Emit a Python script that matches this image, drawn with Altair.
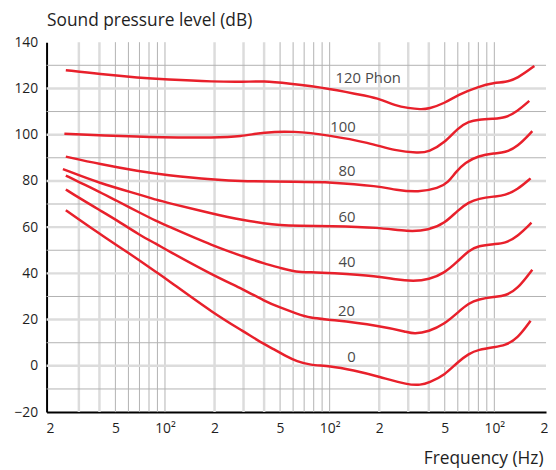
import altair as alt
import pandas as pd

# ---------------- data ----------------
phon_levels = [120, 100, 80, 60, 40, 20, 0]

freq_120 = [25, 40, 70, 100, 200, 300, 400, 550, 1000, 1740, 2000, 2500, 3000, 3570, 4000, 5000, 6000, 8000, 10000, 11600, 13800, 17500]
spl_120 = [127.9, 126.2, 124.6, 123.9, 122.9, 122.8, 123.2, 122.2, 120.0, 116.5, 115.5, 112.6, 111.5, 110.9, 111.2, 113.6, 117.2, 120.8, 122.5, 122.6, 124.3, 129.7]

freq_100 = [24.5, 40, 100, 200, 290, 400, 600, 1000, 1740, 2500, 3470, 4000, 5000, 6000, 7000, 8000, 10000, 11600, 13800, 16300]
spl_100 = [100.4, 99.7, 98.7, 98.7, 99.2, 101.1, 101.6, 99.7, 96.5, 93.0, 92.0, 92.5, 96.5, 102.9, 105.8, 106.5, 106.9, 107.2, 110.1, 114.6]

freq_80 = [25, 40, 70, 100, 200, 300, 630, 1000, 2000, 2500, 3470, 4580, 5260, 5800, 6650, 8000, 10000, 11600, 13800, 17000]
spl_80 = [90.5, 87.3, 84.1, 82.6, 80.4, 79.8, 79.6, 79.5, 77.7, 76.1, 75.1, 76.8, 79.4, 83.7, 88.0, 90.8, 92.0, 92.2, 94.7, 101.5]

freq_60 = [24, 40, 70, 91, 100, 200, 300, 400, 500, 630, 1000, 2000, 3000, 4000, 5000, 6000, 7000, 8000, 10000, 11600, 13800, 16600]
spl_60 = [85.1, 79.0, 74.1, 71.6, 70.8, 65.6, 63.0, 61.6, 60.9, 60.6, 60.5, 59.9, 58.0, 58.7, 61.6, 67.3, 70.8, 72.3, 73.3, 73.7, 76.2, 81.1]

freq_40 = [25, 30, 40, 50, 70, 90, 100, 200, 300, 400, 500, 630, 760, 1000, 2000, 2500, 3240, 4000, 5000, 6000, 7000, 8000, 10000, 11600, 13800, 16800]
spl_40 = [82.3, 79.5, 75.3, 71.7, 66.3, 62.4, 61.0, 51.6, 47.3, 44.2, 42.4, 40.5, 40.5, 40.2, 38.8, 37.3, 36.6, 37.3, 40.2, 45.2, 49.9, 51.9, 52.7, 53.0, 55.9, 61.9]

freq_20 = [25, 30, 40, 50, 70, 90, 100, 200, 300, 400, 500, 630, 760, 1000, 2000, 3000, 3240, 4000, 5000, 6000, 7000, 8000, 10000, 11600, 13800, 17000]
spl_20 = [76.3, 72.7, 67.4, 63.4, 56.6, 52.5, 50.5, 38.8, 33.1, 28.1, 25.2, 22.6, 20.7, 20.0, 17.4, 14.5, 13.8, 14.8, 18.1, 23.1, 27.1, 28.8, 29.9, 30.2, 33.1, 41.6]

freq_0 = [25, 30, 40, 50, 70, 90, 100, 200, 300, 400, 455, 550, 630, 760, 1000, 1390, 2000, 3000, 3570, 4000, 5000, 6000, 7000, 8000, 10000, 11600, 13800, 16600]
spl_0 = [67.3, 63.3, 57.2, 52.6, 45.6, 40.2, 38.0, 22.4, 14.9, 9.3, 7.4, 3.9, 2.0, 0.3, 0.0, -1.9, -4.7, -8.3, -8.3, -7.3, -4.0, 1.7, 5.3, 7.0, 8.1, 8.8, 11.7, 19.5]

label_text = ["120 Phon", "100", "80", "60", "40", "20", "0"]
label_freq = [1716, 1205, 1274, 1274, 1274, 1265, 1355]
label_spl = [124.3, 103.4, 84.1, 64.4, 44.7, 23.8, 3.85]

x_tick_values = [20, 50, 100, 200, 500, 1000, 2000, 5000, 10000, 20000]
x_tick_labels = ["2", "5", "10\u00b2", "2", "5", "10\u00b2", "2", "5", "10\u00b2", "2"]
y_tick_values = [-20, 0, 20, 40, 60, 80, 100, 120, 140]

x_grid_light = [30, 40, 200, 300, 400, 2000, 3000, 4000]
x_grid_dark = [50, 60, 70, 80, 90, 100, 500, 600, 700, 800, 900, 1000,
               5000, 6000, 7000, 8000, 9000, 10000]
y_grid_light = [0, 20, 40, 60, 80, 100, 120]
y_grid_dark = [-10, 10, 30, 50, 70, 90, 110, 130]

# ---------------- tables ----------------
freqs = [freq_120, freq_100, freq_80, freq_60, freq_40, freq_20, freq_0]
spls = [spl_120, spl_100, spl_80, spl_60, spl_40, spl_20, spl_0]
rows = []
for lvl, fr, sp in zip(phon_levels, freqs, spls):
    for f, s in zip(fr, sp):
        rows.append({"phon": lvl, "freq": f, "spl": s})
curves = pd.DataFrame(rows)
labels = pd.DataFrame({"label": label_text, "freq": label_freq, "spl": label_spl})

expr = "''"
for v, l in reversed(list(zip(x_tick_values, x_tick_labels))):
    expr = f"abs(datum.value - {v}) < 0.5 ? '{l}' : ({expr})"

FONT = "Open Sans"
RED = "#e8202b"
TXT = "#1e1e1e"

xscale = alt.Scale(type="log", domain=[19.1, 20600], nice=False)
yscale = alt.Scale(domain=[-20, 140], nice=False, zero=False)

xaxis = alt.Axis(values=x_tick_values, labelExpr=expr, grid=False, ticks=False, tickSize=0,
                 domainColor="black", domainWidth=2, labelFont=FONT, labelFontSize=14,
                 labelColor=TXT, labelPadding=10, labelFlush=False, labelOverlap=False,
                 title="Frequency (Hz)", titleFont=FONT, titleFontSize=17.5,
                 titleFontWeight="normal", titleColor=TXT, titleAlign="right",
                 titleAnchor="end", titleX=502, titleY=52, titleBaseline="alphabetic")
yaxis = alt.Axis(values=y_tick_values, grid=False, ticks=False, tickSize=0,
                 domainColor="black", domainWidth=2, labelFont=FONT, labelFontSize=14,
                 labelColor=TXT, labelPadding=9, labelOverlap=False,
                 title="Sound pressure level (dB)", titleFont=FONT, titleFontSize=17.5,
                 titleFontWeight="normal", titleColor=TXT, titleAngle=0, titleAlign="left",
                 titleX=0, titleY=-17, titleBaseline="alphabetic")

X = lambda f: alt.X(f"{f}:Q", scale=xscale, axis=xaxis)
Y = lambda f: alt.Y(f"{f}:Q", scale=yscale, axis=yaxis)

vlight = alt.Chart(pd.DataFrame({"f": x_grid_light})).mark_rule(
    color="#dcdcdc", strokeWidth=2.5).encode(x=X("f"))
vdark = alt.Chart(pd.DataFrame({"f": x_grid_dark})).mark_rule(
    color="#b2b2b2", strokeWidth=1).encode(x=X("f"))
hlight = alt.Chart(pd.DataFrame({"v": y_grid_light})).mark_rule(
    color="#dcdcdc", strokeWidth=2.5).encode(y=Y("v"))
hdark = alt.Chart(pd.DataFrame({"v": y_grid_dark})).mark_rule(
    color="#b2b2b2", strokeWidth=1).encode(y=Y("v"))

lines = alt.Chart(curves).mark_line(color=RED, strokeWidth=2.5, interpolate="basis").encode(
    x=X("freq"), y=Y("spl"), detail="phon:N")

texts = alt.Chart(labels).mark_text(font=FONT, fontSize=15, color="#4a4a4a",
                                    align="center", baseline="middle").encode(
    x=X("freq"), y=Y("spl"), text="label:N")

chart = alt.layer(vlight, vdark, hlight, hdark, lines, texts).properties(
    width=505, height=374,
    autosize=alt.AutoSizeParams(type="none"),
    padding={"left": 39, "top": 32, "right": 2, "bottom": 56},
    background="white",
).configure_view(stroke="transparent")

chart.save("out.html", embed_options={"renderer": "svg", "actions": False})
